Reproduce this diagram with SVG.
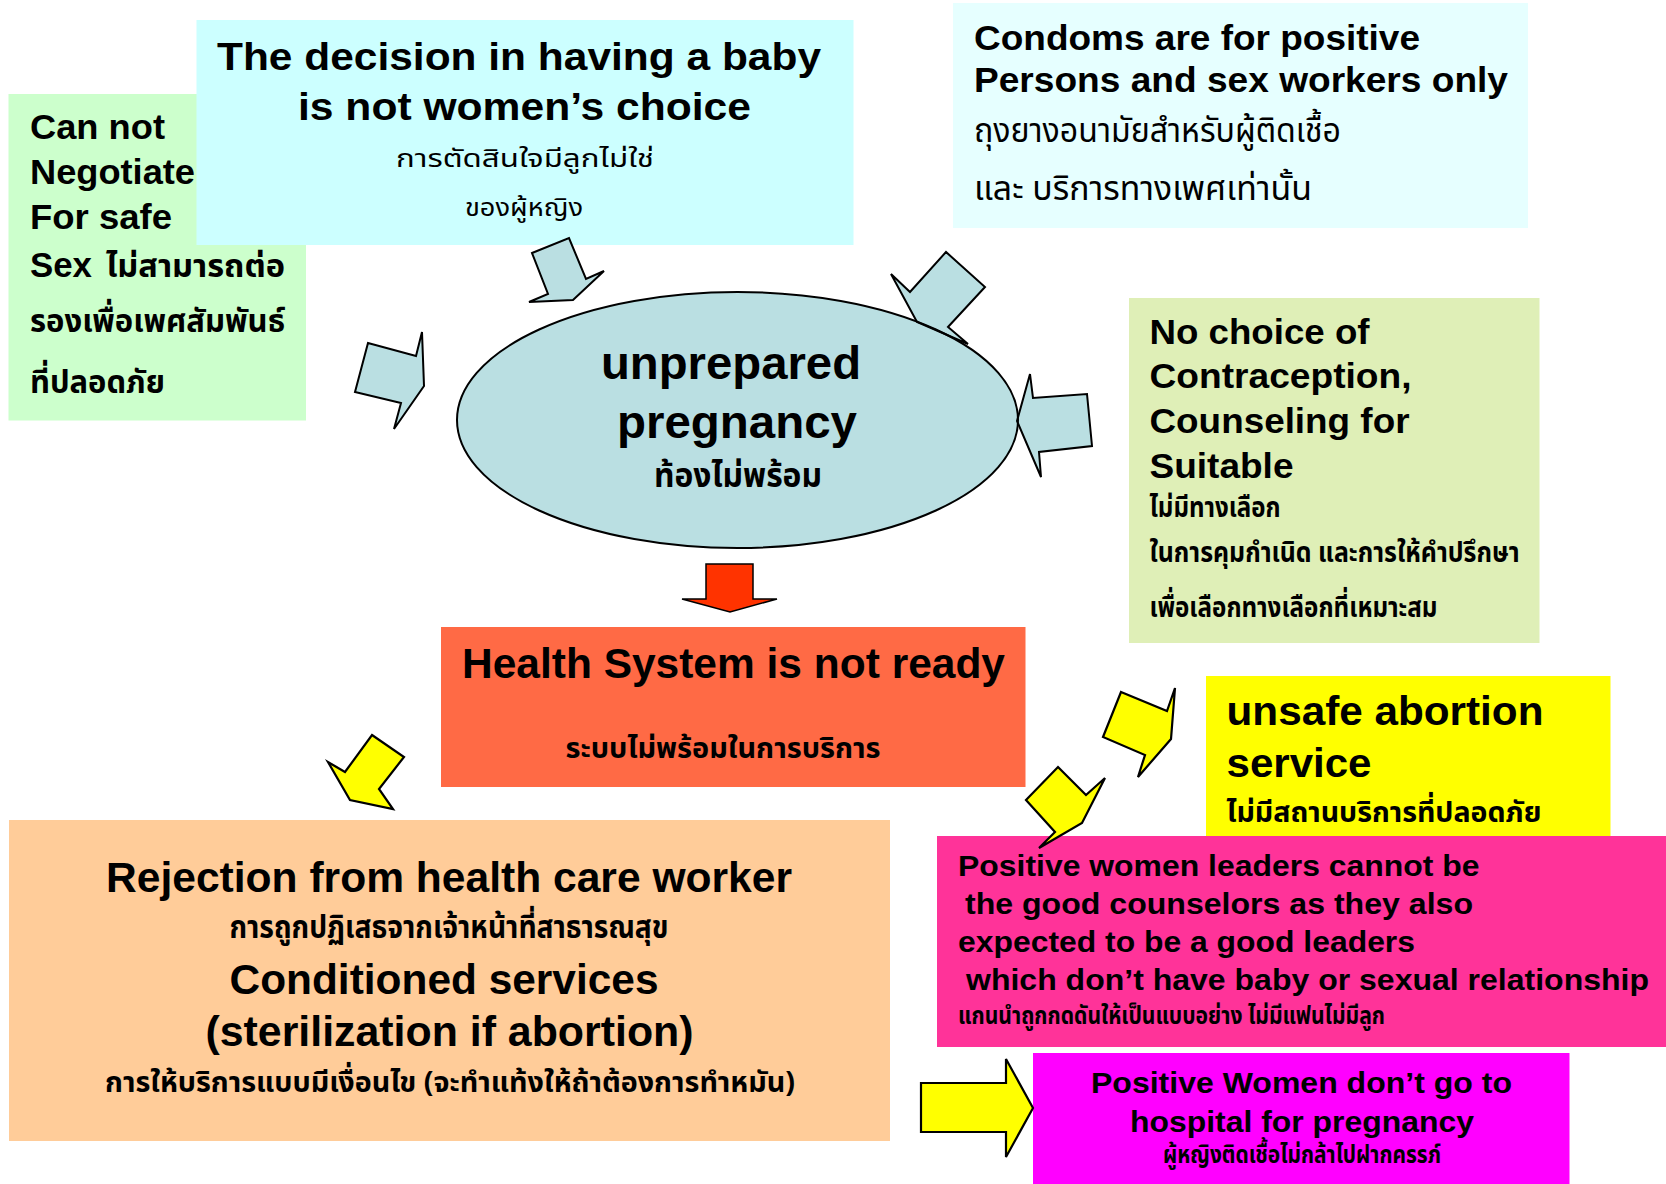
<svg xmlns="http://www.w3.org/2000/svg" width="1666" height="1184" viewBox="0 0 1666 1184">
<style>
.en{font-family:'Liberation Sans',Arial,sans-serif;font-weight:bold;fill:#000}
.th{font-family:'Noto Sans Thai','Noto Serif Thai','Noto Sans',sans-serif;fill:#000}
.thb{font-family:'Noto Sans Thai','Noto Serif Thai','Noto Sans',sans-serif;font-weight:bold;fill:#000}
.blue{fill:#BADFE2;stroke:#000;stroke-width:2;stroke-linejoin:miter}
.yel{fill:#FFFF00;stroke:#000;stroke-width:2.2;stroke-linejoin:miter}
.red{fill:#FF3300;stroke:#000;stroke-width:1.5}
</style>
<rect width="1666" height="1184" fill="#fff"/>

<g id="negotiate">
<rect x="8.5" y="94" width="297.5" height="326.5" fill="#CCFFCC"/>
<text class="en" font-size="35" x="30" y="139" textLength="135" lengthAdjust="spacingAndGlyphs">Can not</text>
<text class="en" font-size="35" x="30" y="184" textLength="165" lengthAdjust="spacingAndGlyphs">Negotiate</text>
<text class="en" font-size="35" x="30" y="229" textLength="142" lengthAdjust="spacingAndGlyphs">For safe</text>
<text class="en" font-size="35" x="30" y="277" textLength="62" lengthAdjust="spacingAndGlyphs">Sex</text>
<text class="thb" font-size="32" x="106" y="277" textLength="179" lengthAdjust="spacingAndGlyphs">ไม่สามารถต่อ</text>
<text class="thb" font-size="32" x="30" y="332" textLength="255" lengthAdjust="spacingAndGlyphs">รองเพื่อเพศสัมพันธ์</text>
<text class="thb" font-size="32" x="30" y="393" textLength="135" lengthAdjust="spacingAndGlyphs">ที่ปลอดภัย</text>
</g>

<g id="decision">
<rect x="196.5" y="20" width="657" height="225" fill="#CCFFFF"/>
<text class="en" font-size="38" x="217" y="70" textLength="604" lengthAdjust="spacingAndGlyphs">The decision in having a baby</text>
<text class="en" font-size="38" x="298" y="120" textLength="453" lengthAdjust="spacingAndGlyphs">is not women’s choice</text>
<text class="th" font-size="25" x="396" y="167" textLength="258" lengthAdjust="spacingAndGlyphs">การตัดสินใจมีลูกไม่ใช่</text>
<text class="th" font-size="25" x="465" y="216" textLength="118" lengthAdjust="spacingAndGlyphs">ของผู้หญิง</text>
</g>

<g id="condoms">
<rect x="953" y="3" width="575" height="225" fill="#E6FFFF"/>
<text class="en" font-size="35" x="974" y="50" textLength="446" lengthAdjust="spacingAndGlyphs">Condoms are for positive</text>
<text class="en" font-size="35" x="974" y="92" textLength="534" lengthAdjust="spacingAndGlyphs">Persons and sex workers only</text>
<text class="th" font-size="33" x="974" y="142" textLength="367" lengthAdjust="spacingAndGlyphs">ถุงยางอนามัยสำหรับผู้ติดเชื้อ</text>
<text class="th" font-size="33" x="974" y="200" textLength="338" lengthAdjust="spacingAndGlyphs">และ บริการทางเพศเท่านั้น</text>
</g>

<g id="nochoice">
<rect x="1129" y="298" width="410.5" height="345" fill="#DFEFB7"/>
<text class="en" font-size="35" x="1149.5" y="344" textLength="220" lengthAdjust="spacingAndGlyphs">No choice of</text>
<text class="en" font-size="35" x="1149.5" y="388" textLength="262" lengthAdjust="spacingAndGlyphs">Contraception,</text>
<text class="en" font-size="35" x="1149.5" y="433" textLength="260" lengthAdjust="spacingAndGlyphs">Counseling for</text>
<text class="en" font-size="35" x="1149.5" y="478" textLength="144" lengthAdjust="spacingAndGlyphs">Suitable</text>
<text class="thb" font-size="29" x="1149.5" y="517" textLength="131" lengthAdjust="spacingAndGlyphs">ไม่มีทางเลือก</text>
<text class="thb" font-size="29" x="1149.5" y="562" textLength="370" lengthAdjust="spacingAndGlyphs">ในการคุมกำเนิด และการให้คำปรึกษา</text>
<text class="thb" font-size="29" x="1149.5" y="617" textLength="288" lengthAdjust="spacingAndGlyphs">เพื่อเลือกทางเลือกที่เหมาะสม</text>
</g>

<g id="pregnancy">
<ellipse cx="737.5" cy="420" rx="280.5" ry="128" fill="#BADFE2"/>
</g>

<g id="connectors">
<polygon class="blue" points="532,253 569,238 586,279 604,271 573,300 529,302 548,294"/>
<polygon class="blue" points="368,343 416,356 422,332 424,386 394,429 401,403 355,392"/>
<polygon class="blue" points="891,274 910,292 946,252 985,287 948,327 968,344 917,322"/>
<polygon class="blue" points="1030,374 1033,398 1087,394 1092,446 1039,452 1041,477 1017,421"/>
<polygon class="red" points="706,564 753,564 753,599 777,599 730,612 682,599 706,599"/>
<polygon class="yel" points="372,735 404,757 379,789 393,809 350,800 328,762 345,772"/>
</g>

<g id="pregnancy-label">
<ellipse cx="737.5" cy="420" rx="280.5" ry="128" fill="none" stroke="#000" stroke-width="2"/>
<text class="en" font-size="46" x="601" y="379" textLength="260" lengthAdjust="spacingAndGlyphs">unprepared</text>
<text class="en" font-size="46" x="617" y="438" textLength="240" lengthAdjust="spacingAndGlyphs">pregnancy</text>
<text class="thb" font-size="34" x="654" y="487" textLength="168" lengthAdjust="spacingAndGlyphs">ท้องไม่พร้อม</text>
</g>

<g id="health">
<rect x="441" y="627" width="584.5" height="160" fill="#FF6A45"/>
<text class="en" font-size="42" x="462" y="678" textLength="543" lengthAdjust="spacingAndGlyphs">Health System is not ready</text>
<text class="thb" font-size="28" x="565.5" y="758" textLength="315" lengthAdjust="spacingAndGlyphs">ระบบไม่พร้อมในการบริการ</text>
</g>

<g id="rejection">
<rect x="9" y="820" width="881" height="321" fill="#FFCC99"/>
<text class="en" font-size="42" x="106" y="892" textLength="686" lengthAdjust="spacingAndGlyphs">Rejection from health care worker</text>
<text class="thb" font-size="31" x="229.5" y="938" textLength="439" lengthAdjust="spacingAndGlyphs">การถูกปฏิเสธจากเจ้าหน้าที่สาธารณสุข</text>
<text class="en" font-size="42" x="229.5" y="994" textLength="429" lengthAdjust="spacingAndGlyphs">Conditioned services</text>
<text class="en" font-size="42" x="205.5" y="1046" textLength="488" lengthAdjust="spacingAndGlyphs">(sterilization if abortion)</text>
<text class="thb" font-size="29" x="105" y="1092" textLength="690" lengthAdjust="spacingAndGlyphs">การให้บริการแบบมีเงื่อนไข (จะทำแท้งให้ถ้าต้องการทำหมัน)</text>
</g>

<g id="unsafe">
<rect x="1206" y="676" width="404.5" height="165" fill="#FFFF00"/>
<text class="en" font-size="40" x="1226.5" y="725" textLength="317" lengthAdjust="spacingAndGlyphs">unsafe abortion</text>
<text class="en" font-size="40" x="1226.5" y="777" textLength="145" lengthAdjust="spacingAndGlyphs">service</text>
<text class="thb" font-size="29" x="1226.5" y="822" textLength="315" lengthAdjust="spacingAndGlyphs">ไม่มีสถานบริการที่ปลอดภัย</text>
</g>

<g id="leaders">
<rect x="937" y="836" width="729" height="211" fill="#FF3399"/>
<text class="en" font-size="29" x="958" y="876" textLength="521.5" lengthAdjust="spacingAndGlyphs">Positive women leaders cannot be</text>
<text class="en" font-size="29" x="965" y="914" textLength="508" lengthAdjust="spacingAndGlyphs">the good counselors as they also</text>
<text class="en" font-size="29" x="958" y="952" textLength="457" lengthAdjust="spacingAndGlyphs">expected to be a good leaders</text>
<text class="en" font-size="29" x="966" y="990" textLength="683" lengthAdjust="spacingAndGlyphs">which don’t have baby or sexual relationship</text>
<text class="thb" font-size="25" x="958" y="1024" textLength="427" lengthAdjust="spacingAndGlyphs">แกนนำถูกกดดันให้เป็นแบบอย่าง ไม่มีแฟนไม่มีลูก</text>
</g>

<g id="hospital">
<rect x="1033" y="1053" width="536.5" height="131" fill="#FF00FF"/>
<text class="en" font-size="30" x="1091" y="1093" textLength="421" lengthAdjust="spacingAndGlyphs">Positive Women don’t go to</text>
<text class="en" font-size="30" x="1130" y="1132" textLength="344" lengthAdjust="spacingAndGlyphs">hospital for pregnancy</text>
<text class="thb" font-size="25" x="1163" y="1163" textLength="278" lengthAdjust="spacingAndGlyphs">ผู้หญิงติดเชื้อไม่กล้าไปฝากครรภ์</text>
</g>

<g id="connectors-top">
<polygon class="yel" points="1121,692 1167,711 1175,688 1171,739 1138,777 1145,755 1103,737"/>
<polygon class="yel" points="1058,767 1086,795 1105,778 1082,823 1039,848 1055,832 1026,800"/>
<polygon class="yel" points="921,1083 1006,1083 1006,1059 1033,1108 1006,1157 1006,1132 921,1132"/>
</g>
</svg>
